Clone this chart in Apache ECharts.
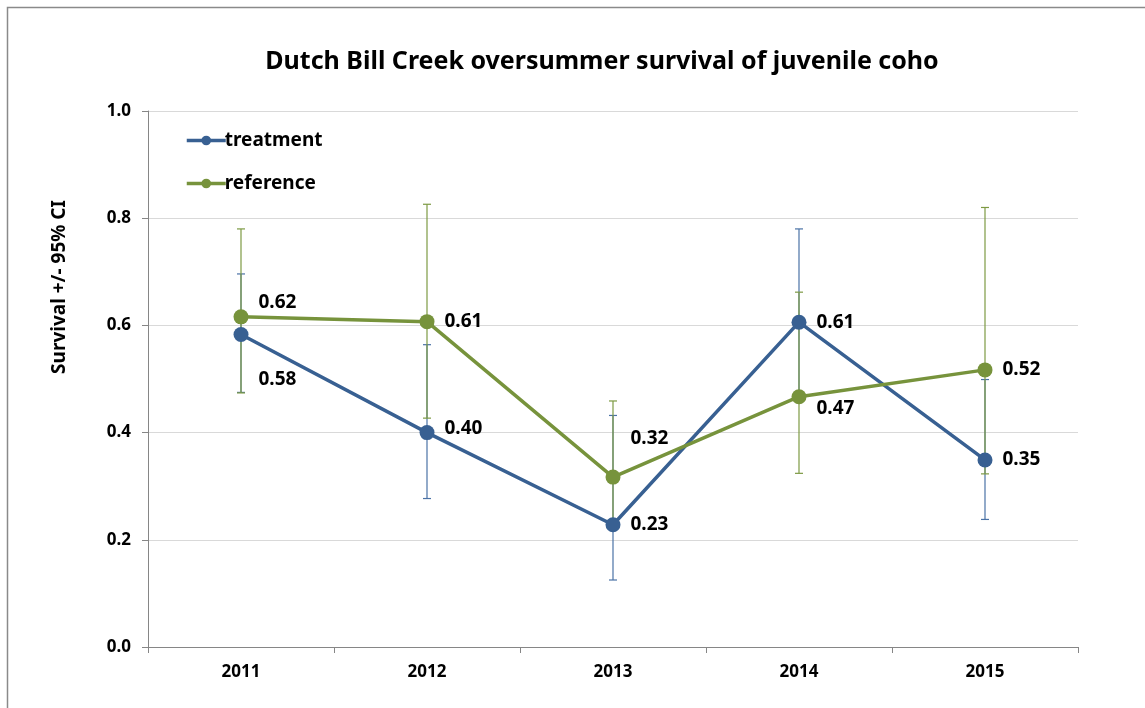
<!DOCTYPE html>
<html>
<head>
<meta charset="utf-8">
<script src="https://cdn.jsdelivr.net/npm/echarts@6/dist/echarts.min.js"></script>
<style>
html,body{margin:0;padding:0;background:#fff;}
#chart{width:1145px;height:708px;}
</style>
</head>
<body>
<div id="chart"></div>
<script>
const years = ['2011', '2012', '2013', '2014', '2015'];
const treatment = [0.583, 0.400, 0.228, 0.606, 0.349];
const treatmentLow = [0.475, 0.277, 0.125, 0.465, 0.238];
const treatmentHigh = [0.696, 0.564, 0.432, 0.780, 0.499];
const reference = [0.616, 0.607, 0.317, 0.467, 0.517];
const referenceLow = [0.474, 0.427, 0.230, 0.324, 0.323];
const referenceHigh = [0.780, 0.826, 0.459, 0.662, 0.820];
const yTicks = [0, 0.2, 0.4, 0.6, 0.8, 1.0];

const BLUE = '#386092';
const GREEN = '#77933C';
const FONT = 'Noto Sans';

// label nudges (style only)
const treatOffsets = [[0, 45], [0, -4], [0, 0], [0, 0], [0, 0]];
const refOffsets = [[0, -14], [0, 0], [0, -38], [0, 12], [0, 0]];

function errSeries(name, low, high, color) {
  return {
    name: name + ' CI',
    type: 'custom',
    z: 1,
    silent: true,
    data: years.map((y, i) => [i, low[i], high[i]]),
    renderItem: function (params, api) {
      const lo = api.coord([api.value(0), api.value(1)]);
      const hi = api.coord([api.value(0), api.value(2)]);
      const w = 4;
      const st = { stroke: color, lineWidth: 1.2 };
      return {
        type: 'group',
        children: [
          { type: 'line', shape: { x1: hi[0], y1: hi[1], x2: lo[0], y2: lo[1] }, style: st },
          { type: 'line', shape: { x1: hi[0] - w, y1: hi[1], x2: hi[0] + w, y2: hi[1] }, style: st },
          { type: 'line', shape: { x1: lo[0] - w, y1: lo[1], x2: lo[0] + w, y2: lo[1] }, style: st }
        ]
      };
    }
  };
}

function lineSeries(name, vals, color, offsets) {
  return {
    name: name,
    type: 'line',
    z: 3,
    data: vals.map((v, i) => ({
      value: v,
      label: { offset: offsets[i] }
    })),
    symbol: 'circle',
    symbolSize: 15,
    lineStyle: { color: color, width: 3.5 },
    itemStyle: { color: color },
    label: {
      show: true,
      position: 'right',
      distance: 10,
      color: '#000',
      fontFamily: FONT,
      fontWeight: 'bold',
      fontSize: 19,
      formatter: p => Number(p.value).toFixed(2)
    },
    emphasis: { disabled: true },
    animation: false
  };
}

const chart = echarts.init(document.getElementById('chart'));
chart.setOption({
  backgroundColor: '#fff',
  animation: false,
  graphic: [{
    type: 'rect',
    shape: { x: 7.5, y: 7.5, width: 1200, height: 760 },
    style: { fill: 'none', stroke: '#8a8a8a', lineWidth: 1.5 },
    silent: true, z: -10
  }, {
    type: 'text',
    x: 60, y: 287,
    rotation: Math.PI / 2,
    silent: true,
    style: {
      text: 'Survival +/- 95% CI',
      fill: '#000',
      font: 'bold 19px "Noto Sans"',
      align: 'center',
      verticalAlign: 'middle'
    }
  }],
  title: {
    text: 'Dutch Bill Creek oversummer survival of juvenile coho',
    left: 597, top: 44, textAlign: 'center',
    textStyle: { fontFamily: FONT, fontWeight: 'bold', fontSize: 25, color: '#000' }
  },
  legend: {
    orient: 'vertical',
    left: 180, top: 126,
    itemGap: 24,
    itemWidth: 39, itemHeight: 12,
    lineStyle: { width: 3.5 },
    data: ['treatment', 'reference'],
    textStyle: { fontFamily: FONT, fontWeight: 'bold', fontSize: 19, color: '#000', padding: [0, 0, 0, -6] }
  },
  grid: { left: 148, right: 67, top: 111, bottom: 61, containLabel: false },
  xAxis: {
    type: 'category',
    data: years,
    boundaryGap: true,
    axisLine: { lineStyle: { color: '#868686', width: 1 } },
    axisTick: { show: true, length: 6, alignWithLabel: false, lineStyle: { color: '#868686' } },
    axisLabel: { fontFamily: FONT, fontWeight: 'bold', fontSize: 17, color: '#000', margin: 17 },
    splitLine: { show: false }
  },
  yAxis: {
    type: 'value',
    min: 0, max: 1, interval: 0.2,
    axisLine: { show: true, lineStyle: { color: '#868686', width: 1 } },
    axisTick: { show: true, length: 6, lineStyle: { color: '#868686' } },
    axisLabel: {
      fontFamily: FONT, fontWeight: 'bold', fontSize: 17, color: '#000', margin: 17,
      formatter: v => (yTicks.indexOf(Math.round(v * 10) / 10) >= 0 ? v.toFixed(1) : '')
    },
    splitLine: { show: true, lineStyle: { color: '#d9d9d9', width: 1 } }
  },
  series: [
    errSeries('treatment', treatmentLow, treatmentHigh, '#4a72a6'),
    errSeries('reference', referenceLow, referenceHigh, '#7d9a43'),
    lineSeries('treatment', treatment, BLUE, treatOffsets),
    lineSeries('reference', reference, GREEN, refOffsets)
  ]
});
</script>
</body>
</html>
